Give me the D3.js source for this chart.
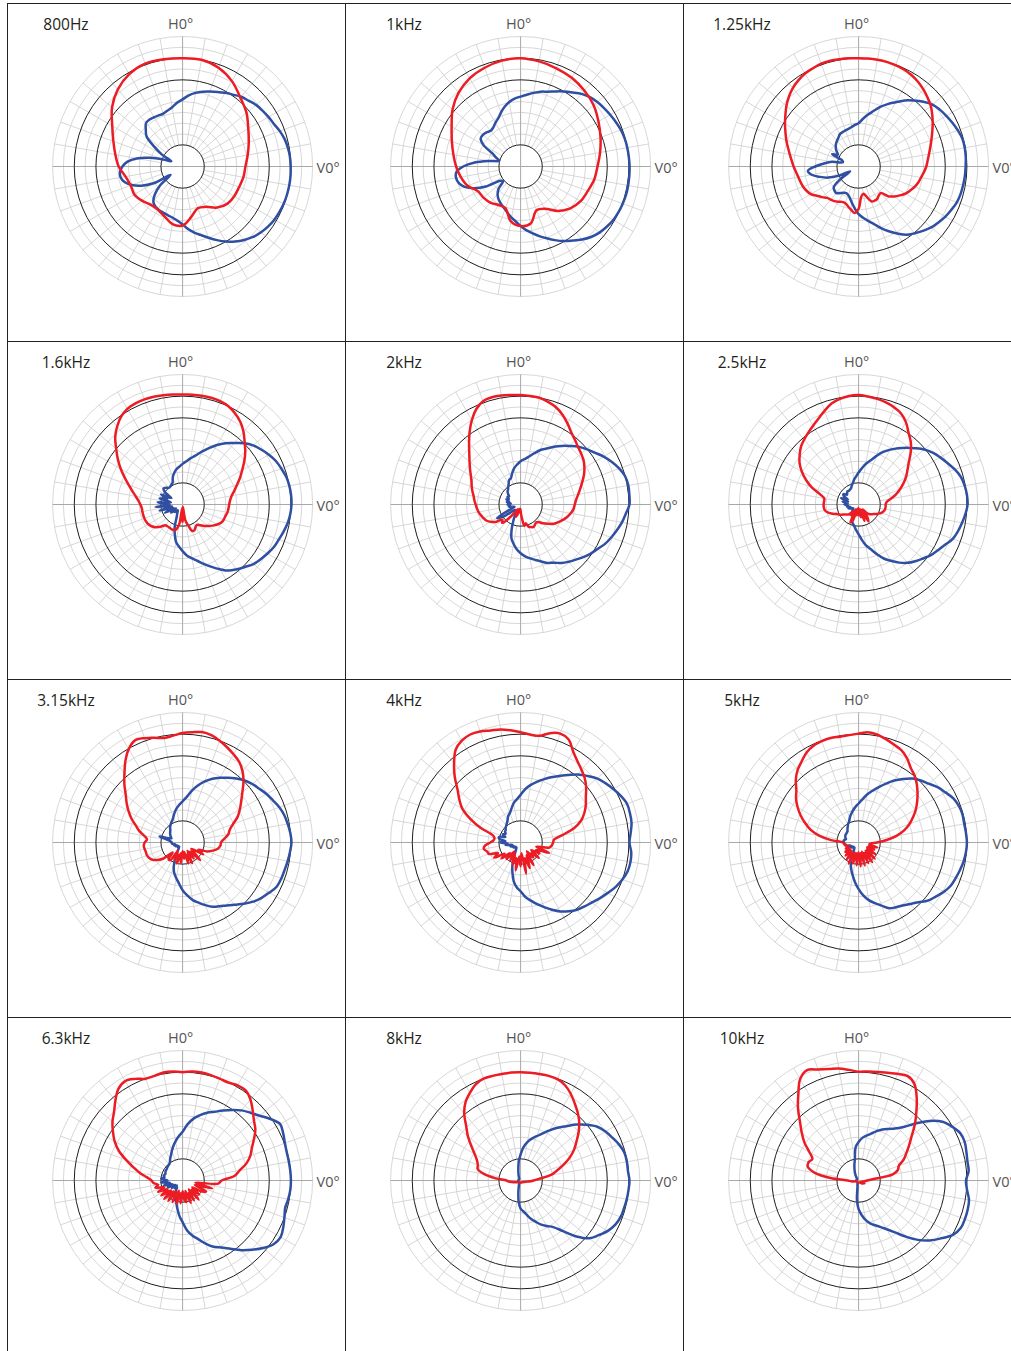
<!DOCTYPE html>
<html><head><meta charset="utf-8">
<script src="https://cdn.jsdelivr.net/npm/d3@7"></script>
<style>body{margin:0;background:#fff;} svg{display:block;}</style>
</head><body>
<svg id="chart" width="1011" height="1351"></svg>
<script>
// Frequency labels (one polar plot each, read left-to-right, top-to-bottom)
const frequencies = ["800Hz","1kHz","1.25kHz","1.6kHz","2kHz","2.5kHz","3.15kHz","4kHz","5kHz","6.3kHz","8kHz","10kHz"];

// Level in dB at equally spaced angles (clockwise from top, first value at 0°)
// H = horizontal polar (red), V = vertical polar (blue)
const h800 = [-10,-10,-11.5,-14.5,-18.5,-21.5,-25,-27.5,-29.5,-31,-31.5,-32.25,-32.5,-33.15,-35.25,-38.5,-39.5,-36.5,-32.75,-33,-35.5,-37,-37,-35.5,-34.25,-34.5,-33.25,-30.5,-28.5,-26,-22.5,-17.5,-13.5,-10.75,-9.5,-9.75];
const v800 = [-29,-27,-25.5,-24.25,-23.15,-22,-20.75,-19.5,-18,-17,-15.75,-15,-14.25,-13.5,-12.25,-11.25,-10.65,-10.25,-10.15,-10,-10,-10.1,-10.25,-10.6,-11,-11.75,-12.75,-14,-15.75,-17.75,-20,-22.5,-25,-27.25,-29,-31,-33.25,-34.75,-35.75,-36.35,-36.75,-37,-37.25,-37.75,-39,-42,-46.5,-53.25,-44.5,-39,-35,-32.25,-31,-31,-32.25,-34.5,-38.5,-44.5,-50.5,-54.25,-49,-44,-38.25,-36,-33.75,-33.5,-33.75,-34,-34,-33.25,-32.25,-30.5];

const h1k = [-10,-10.75,-11.75,-12.75,-14.25,-16,-18.5,-20.75,-22.75,-24.5,-25.5,-27,-28,-30,-33.25,-37.5,-38.5,-33.25,-32.5,-34.25,-39.5,-39.5,-38.25,-37.65,-37.25,-34,-32,-30.25,-28.5,-26.25,-23.25,-19,-15.5,-13,-11.5,-10.4];
const v1k = [-27.75,-26.75,-25.5,-24.25,-23.25,-21.75,-20,-18.25,-16.25,-14.75,-13.75,-13,-12.25,-11.5,-10.75,-10.25,-10,-9.85,-9.7,-9.65,-9.6,-9.6,-9.85,-10.15,-10.6,-11.5,-12.5,-14,-16,-18.25,-20.25,-22.5,-24.75,-26.75,-28.75,-30.5,-32.5,-34.5,-36,-37.5,-39,-40,-41,-42,-43.5,-45.75,-49.5,-48.5,-41.5,-36.25,-32.5,-30.5,-29.75,-30.25,-33.5,-38.75,-45.15,-49.75,-48,-45.5,-40.25,-37.5,-37.25,-37.75,-38.5,-38,-36.75,-35.5,-33.5,-31.5,-29.75,-28.5];

const h1250 = [-10,-10,-10,-10,-10.25,-10.6,-11.25,-12.25,-13.5,-15,-16.5,-18.5,-20.5,-22.5,-24.25,-25.75,-27,-28,-28.75,-29.75,-30.75,-31.5,-32.5,-33.75,-35,-36.75,-38.5,-40.5,-44,-43.75,-42.75,-42.6,-42.9,-45.5,-47.25,-46,-40.5,-38.5,-39.75,-41,-42,-42,-41.25,-40.5,-40,-39.5,-38,-36.5,-34.5,-33.5,-32.75,-32.25,-31.75,-31,-30,-29,-27.75,-26.25,-24.5,-22.75,-20.75,-18.75,-16.5,-14.5,-12.75,-11.5,-10.5,-10,-9.5,-9.5,-9.75,-9.9];
const v1250 = [-40,-38,-35.75,-33.5,-30.75,-28.25,-25.75,-22.75,-20.25,-17.75,-15.5,-14.25,-13.25,-12.25,-11.25,-10.4,-10.25,-10.35,-10.6,-10.75,-11,-11.25,-11.75,-12.75,-13.75,-15,-16.25,-18,-19.75,-21.5,-24.25,-27,-29.75,-32.5,-34.5,-36.25,-38,-40.5,-42.75,-44.75,-46,-46.5,-46,-45,-44,-44.25,-45,-49.5,-55.5,-50,-45,-41.5,-38,-36.5,-40,-44,-47.5,-52.5,-52,-46.5,-49,-47.5,-46.25,-45.25,-44.5,-43.75,-42.75,-42.5,-42.25,-42,-41.5,-40.75];

const h1600 = [-9.25,-9.1,-9,-9,-9.25,-10,-11.5,-13.5,-16.25,-19.5,-22.25,-25.25,-28.25,-30.75,-33.25,-35.25,-37,-38,-38.5,-38.75,-39,-39.5,-39.75,-40.25,-41.5,-43,-44.5,-46,-47.5,-48.5,-48,-47,-47,-50,-52.5,-59,-52,-58.5,-50.5,-48,-47.5,-47.5,-47.75,-47.75,-47.5,-45.5,-43.75,-42.5,-41.75,-41.4,-41.25,-41.2,-41.15,-41.1,-40.5,-39.5,-38,-36,-33.5,-30.5,-27,-23.5,-20,-16,-13,-10.5,-9,-8.5,-8.4,-8.5,-8.75,-9];
const v1600 = [-41.25,-40,-38.25,-36.5,-34,-31.25,-28.25,-25.5,-23,-20,-17.5,-15.75,-14,-12.5,-11.5,-10.5,-10,-9.75,-9.75,-10.1,-10.75,-11.75,-12.75,-13.5,-14.75,-16,-17.25,-19.25,-21,-22.75,-25.5,-28.25,-30.75,-33,-34.75,-36.25,-38.5,-40.5,-42.5,-46,-49.5,-53.5,-55,-56,-56.5,-55,-56,-53.5,-56.5,-51,-55.5,-49,-55,-47.5,-54,-48.5,-54.5,-49,-52.5,-49,-54,-50,-48.5,-49,-50,-50,-49.5,-49,-46.75,-45,-43.5,-42.5];

const h2k = [-9.5,-9.75,-10,-11,-12.25,-14.25,-16.75,-19.25,-21,-22.5,-23.5,-24.5,-26,-27.75,-29.75,-31.5,-33,-34.25,-35,-35.5,-36.5,-37.75,-39.25,-40.75,-42.25,-44.5,-46.5,-48.5,-49,-48.5,-48,-48.5,-49,-51,-50,-54,-57,-58,-57.5,-56,-54,-57,-57.5,-56,-52,-48,-49,-46,-44,-42.5,-41.75,-41,-40.25,-39.75,-39.25,-38.6,-38,-37,-36,-35,-33.5,-31.5,-29.25,-26.5,-23,-19,-15,-11.5,-9.25,-8.75,-8.9,-9.25];
const v2k = [-40,-39,-37.5,-35.5,-33.25,-31.5,-29.25,-27,-24.75,-22.25,-20.25,-18.25,-15.75,-13.5,-11.5,-10,-9.5,-9.6,-9.75,-11.25,-12.5,-14,-15.5,-17,-19,-20.5,-22.25,-24,-25.5,-27,-29,-30.25,-32,-33.5,-34.75,-36,-37.5,-39.25,-41.5,-43.75,-48,-52.5,-55.5,-56.5,-56,-56.5,-55,-50,-47.5,-55,-57,-56,-54.5,-55,-54,-55.5,-53.5,-54.5,-53,-54,-53,-53.5,-52.5,-51.5,-51,-50,-49,-47.5,-47,-45,-43,-41.5];

const h2500 = [-9.5,-10,-10.5,-11.25,-12.25,-13.65,-16.25,-19.75,-22.5,-26,-29.75,-32.5,-34.75,-37.25,-39.75,-42.25,-45,-47,-47.5,-47.5,-47.6,-48,-48.75,-50,-51.25,-52.25,-53,-54,-57,-53,-51,-57.5,-52,-57,-54,-58,-55,-58.5,-55,-57.5,-52.25,-50.9,-57.5,-54,-55.5,-53.5,-52.75,-52,-50.5,-49.4,-47.5,-45.5,-44.25,-43.9,-43.85,-44,-43.9,-41.5,-37,-33.25,-29.75,-26.75,-24.5,-22.35,-20.9,-19.5,-18,-16.25,-14,-11.75,-10.5,-9.75];
const v2500 = [-45.25,-43.25,-41,-39,-36.25,-33.25,-30.75,-28.25,-25.75,-23.25,-20.5,-18.25,-16.5,-14.75,-12.75,-11.1,-10.25,-9.8,-9.7,-10.5,-11.5,-12.5,-13.75,-16,-17.75,-19.25,-21.25,-23,-24.85,-27.25,-30,-32.5,-35.75,-38.75,-41,-43.75,-46.25,-48,-49.5,-50.5,-51.5,-53.5,-55,-56,-56,-56,-56.5,-57,-56.5,-55.5,-55,-56,-54.5,-55,-53.5,-55,-52.5,-55,-51.4,-54.5,-52,-51.6,-53,-52.5,-52,-52.25,-52,-51.75,-50.75,-49.75,-48.25,-47];

const h3150 = [-9.5,-8.9,-8.25,-8.75,-10,-11.5,-13,-14.5,-17,-20.25,-24,-27,-29.5,-32,-35.25,-37.5,-38.6,-40.75,-42.25,-42.5,-43.5,-45.5,-48,-52,-49,-55,-53.5,-48.5,-54.5,-51,-55.5,-49.5,-54,-50,-55.5,-52.5,-56,-50.5,-55,-50,-54,-51,-55.5,-50,-50,-53.5,-48.5,-46,-44,-43,-42.5,-42.5,-42.25,-42,-42.5,-43.5,-42,-39.25,-37,-34,-31.25,-28.5,-25.75,-22,-18.25,-14,-10.25,-8,-8.75,-10,-11,-10.5];
const v3150 = [-41,-39,-35.75,-32.75,-30,-27.5,-25.5,-23.5,-21.5,-19.5,-18,-16.75,-15.25,-14,-12.5,-11.4,-10.75,-10.1,-9.75,-10.25,-10.75,-11.25,-11.5,-12,-13.75,-15.5,-17.5,-20,-22.5,-24.5,-26,-27.25,-29.25,-31.25,-33,-35.5,-38,-41,-43.25,-45.25,-48,-52,-55.5,-57,-57.5,-57,-57.5,-57,-56.5,-57,-56,-56.5,-55.5,-55,-55,-54.5,-53,-49,-54.5,-54,-53.5,-53,-52.5,-52,-51,-50.25,-49.5,-48.75,-47.5,-45.75,-44,-42.5];

const h4k = [-9.1,-10,-10,-7.75,-6.5,-7.5,-11.5,-14.25,-16.25,-18.1,-20.5,-23.25,-25.25,-27.5,-30.25,-34.5,-40.5,-44.5,-45,-45.5,-46.5,-52.5,-46,-52,-50,-54,-49,-53,-51,-55,-48,-53.5,-47.5,-52.5,-45.5,-55,-49,-53.5,-47,-52.5,-49,-54,-50.5,-55,-50,-53,-48.5,-51,-46,-48.5,-44.5,-44,-42.75,-43.5,-46,-47.5,-47.75,-46.5,-40.5,-34.5,-29,-25.5,-22,-17,-12.25,-7.75,-5.75,-5,-5.5,-6.5,-7,-8];
const v4k = [-38,-35.25,-33,-31,-29,-26.75,-24.5,-22,-19,-16.5,-14,-12.25,-10.6,-9,-7.75,-7.75,-8,-9,-9.75,-8.75,-8.5,-8.85,-10,-11.55,-13.5,-15.25,-17,-18.25,-19.5,-21.25,-23.25,-25.75,-28.25,-30.5,-32.75,-34.75,-37.5,-39.25,-41.75,-45.5,-49,-53,-55.5,-56.5,-57,-56.5,-57,-56,-56.5,-55.5,-55,-56,-53,-54,-50.5,-53,-50,-49.75,-52.5,-51,-52,-51.25,-51,-50.25,-49.75,-49,-48,-46.5,-45.5,-43.75,-41.5,-40];

const h5k = [-9.75,-8.9,-9.5,-10.75,-12,-13.1,-15.25,-18,-19.75,-22,-24.5,-27,-29.5,-32.25,-35,-38.25,-42.25,-47,-51.5,-54.5,-55,-51,-55,-52,-55.5,-50.5,-55,-49.5,-55,-49,-54.5,-49.5,-55.5,-49,-55,-49,-55.5,-49.5,-55,-50,-55,-49.25,-54.5,-50.5,-55,-51.5,-55,-52.5,-55,-53.5,-55,-54,-53.5,-53.25,-52.75,-47.25,-41.5,-37,-33.75,-30.5,-27.5,-24.75,-22.5,-19,-16.25,-14.25,-12,-10.75,-10.25,-10.05,-10.4,-10.25];
const v5k = [-42,-40,-37.5,-35.25,-32.75,-30,-27,-24.25,-21.5,-19.5,-17.75,-15.5,-13.75,-11.75,-10.75,-10.35,-10.5,-10.25,-10,-10.25,-10.75,-11.5,-12.25,-13,-14.5,-16.5,-18.25,-21,-23,-24.5,-25.5,-26.5,-29,-31,-33,-35.5,-38.5,-41.5,-44.5,-47,-49.5,-53,-55.5,-56.5,-57,-56.5,-57,-56,-56.5,-55,-56,-54.5,-54,-53.5,-53.25,-53,-53.25,-54,-53.5,-53.25,-53,-53,-52.9,-52.75,-52,-51.25,-50.25,-49.5,-48,-46.5,-45,-43.5];

const h6300 = [-10,-9.5,-9.4,-9.65,-10,-10.1,-9.25,-9.25,-11.25,-14.25,-17,-19,-22,-24.75,-26.75,-29.5,-33.25,-36,-42,-43.5,-54,-46,-54,-48,-50,-54.5,-50,-54,-48.5,-55,-49.5,-53.5,-49,-55,-50,-51,-55,-49.5,-54,-49,-55,-49,-54,-48.5,-53.5,-48,-53,-48,-52,-47.5,-51,-47,-48.5,-46.5,-45.65,-43.5,-40,-36.5,-32.25,-27.5,-23.75,-20.75,-17.75,-15.25,-11.75,-8.35,-7,-8.25,-10,-10,-9.35,-9.5];
const v6300 = [-37.5,-34,-31,-28.75,-26.75,-25,-22.75,-20.25,-17.75,-15.75,-13.5,-10.5,-8,-8.75,-9.75,-10.2,-10.2,-10.1,-10,-10.1,-10.5,-11,-10,-8.75,-7.75,-8.75,-11.5,-14.75,-18,-21.5,-24.25,-26.25,-29,-32,-34.25,-37,-40.75,-43.5,-46.5,-49,-51,-52.5,-53.5,-55,-56,-55,-56.5,-54,-56,-52.5,-55,-51,-54,-50,-53,-50.1,-51.5,-51,-51.5,-51.25,-51,-51,-50.75,-50.5,-50.35,-49.75,-48.5,-47.25,-45.5,-43.5,-41.5,-39.5];

const h8k = [-10,-10.1,-10.1,-10,-10.25,-11.5,-13.75,-16.5,-19,-21.75,-25,-28.5,-31.5,-35,-39,-42.75,-46,-51.5,-54,-55.5,-57,-57.75,-58,-58.35,-58.5,-58.6,-58.75,-58.9,-59,-59,-59,-59,-59,-59,-59,-59,-59,-59,-59,-59,-59,-59,-59,-59,-59,-58.9,-58.75,-58.6,-58.5,-58.25,-57.75,-57,-55.75,-54.5,-53.5,-48.5,-43,-39.5,-39,-37.75,-35.5,-32.25,-28.25,-24.5,-19.5,-15.75,-13.25,-11,-10,-10,-10.1,-10];
const v8k = [-48,-44.5,-42,-40,-38.25,-36,-33.25,-30.25,-27.25,-23.5,-20,-16.75,-14.75,-13.25,-11.6,-10.4,-10.2,-10.25,-9.75,-10,-10.25,-10.6,-10.85,-11.75,-13.5,-16,-18.5,-23.5,-29.5,-33.75,-35.75,-37.5,-39.75,-41.75,-44,-45.75,-47,-50,-54,-56.5,-57.75,-58.25,-58.5,-58.75,-59,-59,-59,-59,-59,-59,-59,-59,-59,-59,-59,-59,-59,-59,-59,-59,-59,-59,-59,-59,-59,-58.75,-58.5,-58,-57.25,-56,-54,-50.75];

const h10k = [-9.75,-9.5,-9.1,-8.5,-7.6,-6.75,-8.5,-13.25,-18.5,-23.25,-28,-31.5,-34.5,-37,-40.25,-41.25,-44,-53.5,-56,-57,-57.75,-57.5,-58.5,-57,-58.5,-57.5,-58.75,-58,-59,-59,-59,-59,-59,-59,-59,-59,-59,-59,-59,-59,-59,-59,-59,-59,-59,-59,-59,-59,-59,-59,-59,-58.5,-57.5,-56.5,-55,-47,-39.5,-35.75,-35.4,-36.5,-33.75,-29.5,-25.75,-21.75,-16.5,-11.5,-6,-3.75,-5.5,-6.75,-7.5,-8.75];
const v10k = [-42.25,-40.25,-39,-37.65,-35.75,-34,-32.5,-30.75,-27.75,-22.75,-17.25,-12.75,-10.25,-8.25,-7.9,-8.5,-9,-9,-10.45,-9.75,-8.25,-7.9,-7.8,-8,-9.75,-13.5,-17,-21.25,-26.25,-30.75,-34,-36.4,-38,-39.5,-41.5,-44,-46.75,-51.25,-57,-58,-58.5,-59,-59,-59,-59,-59,-59,-59,-59,-59,-59,-59,-59,-59,-59,-59,-59,-59,-59,-59,-59,-59,-59,-59,-59,-58.25,-57.25,-56,-54.5,-52.5,-50,-44.5];

const hSeries = [h800, h1k, h1250, h1600, h2k, h2500, h3150, h4k, h5k, h6300, h8k, h10k];
const vSeries = [v800, v1k, v1250, v1600, v2k, v2500, v3150, v4k, v5k, v6300, v8k, v10k];

// Polar grid: rings every 5 dB, highlighted rings, spokes every 10°
const ringLevels = [-50,-45,-40,-35,-30,-25,-20,-15,-10,-5,0];
const blackRings = [-50,-20,-10];
const spokeAngles = d3.range(0, 360, 10);
const axisLabels = ["H0°", "V0°"];

const svg = d3.select("#chart");
const cellW = 338, cellH = 338, gridX = 7, gridY = 3;
const R = 130;
const rScale = d3.scaleLinear().domain([-60, 0]).range([0, R]).clamp(true);
const toRad = d => d * Math.PI / 180;

const grid = svg.append("g");
[0,1,2].forEach(c => grid.append("line")
  .attr("x1", gridX + c*cellW + 0.5).attr("x2", gridX + c*cellW + 0.5)
  .attr("y1", gridY).attr("y2", 1351).attr("stroke", "#222").attr("stroke-width", 1));
[0,1,2,3].forEach(rw => grid.append("line")
  .attr("x1", gridX).attr("x2", 1011)
  .attr("y1", gridY + rw*cellH + 0.5).attr("y2", gridY + rw*cellH + 0.5)
  .attr("stroke", "#222").attr("stroke-width", 1));

frequencies.forEach((freq, i) => {
  const col = i % 3, row = Math.floor(i / 3);
  const left = gridX + col*cellW, top = gridY + row*cellH;
  const cx = left + 175.6, cy = top + 163.5;

  svg.append("text").attr("x", left + 59).attr("y", top + 26.5)
    .attr("text-anchor", "middle").attr("font-family", "Open Sans, sans-serif")
    .attr("font-size", 15.5).attr("fill", "#231f20").text(freq);

  const p = svg.append("g").attr("transform", `translate(${cx},${cy})`);

  p.selectAll("circle.ring").data(ringLevels.filter(d => !blackRings.includes(d)))
    .join("circle").attr("r", d => rScale(d)).attr("fill", "none")
    .attr("stroke", "#d2d2d2").attr("stroke-width", 0.9);

  p.selectAll("line.spoke").data(spokeAngles.filter(a => a % 90 !== 0)).join("line")
    .attr("x1", a => rScale(-50) * Math.sin(toRad(a))).attr("y1", a => -rScale(-50) * Math.cos(toRad(a)))
    .attr("x2", a => R * Math.sin(toRad(a))).attr("y2", a => -R * Math.cos(toRad(a)))
    .attr("stroke", "#d2d2d2").attr("stroke-width", 0.9);

  p.append("line").attr("x1", -R).attr("x2", R).attr("y1", 0).attr("y2", 0).attr("stroke", "#a8a8a8").attr("stroke-width", 1);
  p.append("line").attr("x1", 0).attr("x2", 0).attr("y1", -R).attr("y2", R).attr("stroke", "#a8a8a8").attr("stroke-width", 1);

  p.selectAll("circle.black").data(blackRings).join("circle")
    .attr("r", d => rScale(d)).attr("fill", "none").attr("stroke", "#1e1e1e").attr("stroke-width", 1);

  p.append("text").attr("x", -2).attr("y", -137.2).attr("text-anchor", "middle")
    .attr("font-family", "Open Sans, sans-serif").attr("font-size", 14.5).attr("fill", "#555").text(axisLabels[0]);
  p.append("text").attr("x", 134).attr("y", 6.8).attr("text-anchor", "start")
    .attr("font-family", "Open Sans, sans-serif").attr("font-size", 14.5).attr("fill", "#555").text(axisLabels[1]);

  const radial = vals => {
    const step = 360 / vals.length;
    return d3.lineRadial()
      .angle((d, k) => toRad(k * step))
      .radius(d => rScale(d))
      .curve(d3.curveCatmullRomClosed.alpha(0.5))(vals);
  };

  p.append("path").attr("d", radial(vSeries[i])).attr("fill", "none")
    .attr("stroke", "#2f4fa3").attr("stroke-width", 2.5).attr("stroke-linejoin", "round");
  p.append("path").attr("d", radial(hSeries[i])).attr("fill", "none")
    .attr("stroke", "#ed1c24").attr("stroke-width", 2.5).attr("stroke-linejoin", "round");
});
</script>
</body></html>
